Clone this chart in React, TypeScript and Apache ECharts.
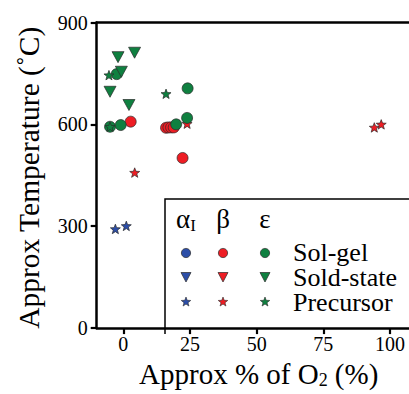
import React, { useEffect, useRef } from "react";
import * as echarts from "echarts";

// ---- data (x: approx % O2, y: approx temperature °C) ----
const alphaPrecursor: number[][] = [[-3.0, 292], [1.1, 301]];
const betaSolGel: number[][] = [[2.75, 608], [16.0, 590], [16.9, 591], [17.9, 591], [18.9, 591], [22.2, 501]];
const betaPrecursor: number[][] = [[4.25, 458], [23.9, 602], [94.1, 591], [96.7, 600]];
const epsSolGel: number[][] = [[-5.0, 593], [-1.0, 598], [-2.5, 748], [19.8, 600], [23.9, 619], [24.1, 706]];
const epsSolid: number[][] = [[-2.0, 798], [4.2, 811], [-0.75, 755], [-5.0, 696], [2.1, 657]];
const epsPrecursor: number[][] = [[-5.4, 745], [16.0, 690], [-5.0, 593]];

const xTicks = [0, 25, 50, 75, 100];
const phaseLabels = ["α", "β", "ε"];
const methodLabels = ["Sol-gel", "Sold-state", "Precursor"];

const FONT = "'Liberation Serif', 'Times New Roman', serif";
const BLUE = "#2c4ea8";
const RED = "#ee1d24";
const GREEN = "#0f8040";
const EDGE = "#2a2a2a";

function starPoints(cx: number, cy: number, R: number, r: number): number[][] {
  const pts: number[][] = [];
  for (let i = 0; i < 10; i++) {
    const rad = i % 2 === 0 ? R : r;
    const a = -Math.PI / 2 + (i * Math.PI) / 5;
    pts.push([cx + rad * Math.cos(a), cy + rad * Math.sin(a)]);
  }
  return pts;
}
const STAR =
  "path://M" +
  starPoints(50, 50, 50, 21)
    .map((p) => p[0].toFixed(2) + "," + p[1].toFixed(2))
    .join("L") +
  "Z";

export default function App() {
  const ref = useRef<HTMLDivElement>(null);
  useEffect(() => {
    if (!ref.current) return;
    const chart = echarts.init(ref.current, undefined, { renderer: "svg" });

    const mk = (name: string, data: number[][], color: string, kind: string) => {
      const base: any = {
        name,
        type: "scatter",
        data,
        itemStyle: { color, borderColor: EDGE, borderWidth: 0.7, opacity: 1 },
        emphasis: { disabled: true },
      };
      if (kind === "circle") {
        base.symbol = "circle";
        base.symbolSize = 11;
      } else if (kind === "tri") {
        base.symbol = "triangle";
        base.symbolRotate = 180;
        base.symbolSize = [12, 11];
      } else {
        base.symbol = STAR;
        base.symbolKeepAspect = true;
        base.symbolSize = 10;
      }
      return base;
    };

    const colX = [186, 223, 265];
    const rowY = [252, 277, 302];
    const colors = [BLUE, RED, GREEN];
    const legendEls: any[] = [];
    legendEls.push({
      type: "polyline",
      shape: { points: [[165, 334], [165, 199], [412, 199]] },
      style: { stroke: "#000", lineWidth: 1.5, fill: null },
      z: 10,
    });
    colX.forEach((cx, i) => {
      legendEls.push({
        type: "text",
        x: cx,
        y: 219,
        style:
          i === 0
            ? {
                text: "{a|" + phaseLabels[i] + "}{s|I}",
                rich: {
                  a: { fontFamily: FONT, fontSize: 27, fill: "#000" },
                  s: { fontFamily: FONT, fontSize: 17, fill: "#000", padding: [12, 0, 0, 0] },
                },
                align: "center",
                verticalAlign: "middle",
              }
            : {
                text: phaseLabels[i],
                fontFamily: FONT,
                fontSize: 27,
                fill: "#000",
                align: "center",
                verticalAlign: "middle",
              },
        z: 10,
      });
      const col = colors[i];
      const y0 = rowY[0];
      legendEls.push({
        type: "circle",
        shape: { cx, cy: y0 + 1, r: 4.6 },
        style: { fill: col, stroke: EDGE, lineWidth: 0.7 },
        z: 10,
      });
      const y1 = rowY[1];
      legendEls.push({
        type: "polygon",
        shape: { points: [[cx - 5, y1 - 4.5], [cx + 5, y1 - 4.5], [cx, y1 + 5]] },
        style: { fill: col, stroke: EDGE, lineWidth: 0.7 },
        z: 10,
      });
      legendEls.push({
        type: "polygon",
        shape: { points: starPoints(cx, rowY[2], 5, 2.1) },
        style: { fill: col, stroke: EDGE, lineWidth: 0.6 },
        z: 10,
      });
    });
    methodLabels.forEach((t, j) => {
      legendEls.push({
        type: "text",
        x: 293,
        y: rowY[j],
        style: {
          text: t,
          fontFamily: FONT,
          fontSize: 26,
          lineHeight: 22,
          fill: "#000",
          align: "left",
          verticalAlign: "middle",
        },
        z: 10,
      });
    });

    chart.setOption({
      animation: false,
      backgroundColor: "#fff",
      grid: { left: 96.7, right: 0.3, top: 22.5, bottom: 61, containLabel: false },
      xAxis: [
        {
          type: "value",
          min: -10,
          max: 107,
          position: "bottom",
          name: "Approx % of O{s|2} (%)",
          nameLocation: "middle",
          nameGap: 26,
          nameTextStyle: {
            fontFamily: FONT,
            fontSize: 29,
            color: "#000",
            padding: [0, 0, 0, 12],
            rich: { s: { fontFamily: FONT, fontSize: 18, color: "#000", padding: [13, 0, 0, 0] } },
          },
          axisLine: { show: true, onZero: false, lineStyle: { color: "#000", width: 2.5 } },
          axisTick: { show: true, inside: false, length: 6, lineStyle: { color: "#000", width: 2.2 }, customValues: xTicks },
          axisLabel: { fontFamily: FONT, fontSize: 20, color: "#000", margin: 6, customValues: xTicks },
          splitLine: { show: false },
        },
        {
          type: "value",
          min: -10,
          max: 107,
          position: "top",
          axisLine: { show: true, onZero: false, lineStyle: { color: "#000", width: 2.5 } },
          axisTick: { show: false },
          axisLabel: { show: false },
          splitLine: { show: false },
        },
      ],
      yAxis: {
        type: "value",
        min: 0,
        max: 900,
        interval: 300,
        name: "Approx Temperature (˚C)",
        nameLocation: "middle",
        nameGap: 53,
        nameTextStyle: { fontFamily: FONT, fontSize: 29.5, color: "#000", padding: [0, 5, 0, 0] },
        axisLine: { show: true, onZero: false, lineStyle: { color: "#000", width: 2.5 } },
        axisTick: { show: true, inside: false, length: 6, lineStyle: { color: "#000", width: 2.2 } },
        axisLabel: { fontFamily: FONT, fontSize: 20, color: "#000", margin: 9 },
        splitLine: { show: false },
      },
      series: [
        mk("β Precursor", betaPrecursor, RED, "star"),
        mk("β Sol-gel", betaSolGel, RED, "circle"),
        mk("ε Sol-gel", epsSolGel, GREEN, "circle"),
        mk("ε Precursor", epsPrecursor, GREEN, "star"),
        mk("ε Sold-state", epsSolid, GREEN, "tri"),
        mk("α Precursor", alphaPrecursor, BLUE, "star"),
      ],
      graphic: { elements: legendEls },
    });
    return () => chart.dispose();
  }, []);
  return <div ref={ref} style={{ position: "absolute", left: 0, top: 0, width: 409, height: 394 }} />;
}
